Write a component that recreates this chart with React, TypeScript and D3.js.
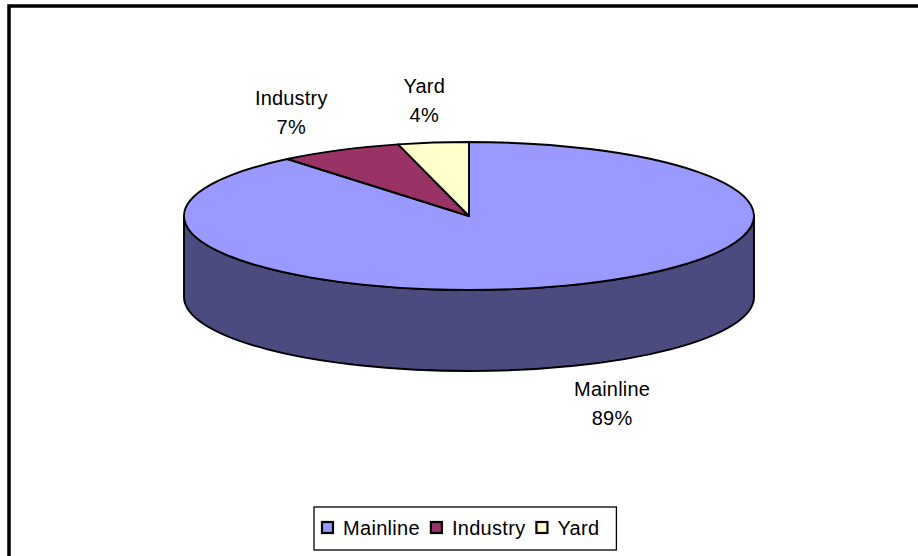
import React, { useEffect, useRef } from 'react';
import * as d3 from 'd3';

const categories = ['Mainline', 'Industry', 'Yard'];
const shares = [89, 7, 4];
const topColors = ['#9999ff', '#993366', '#ffffcc'];
const sideColors = ['#4b4b80', '#4d1a33', '#808066'];

const W = 918;
const H = 556;

function App() {
  const svgRef = useRef<SVGSVGElement | null>(null);

  useEffect(() => {
    if (!svgRef.current) return;
    const svg = d3.select(svgRef.current);
    svg.selectAll('*').remove();

    const font = '"Liberation Sans", Arial, sans-serif';

    // outer frame, runs off the right and bottom edge
    svg.append('rect')
      .attr('x', 9).attr('y', 6)
      .attr('width', W + 40).attr('height', H + 40)
      .attr('fill', '#fff')
      .attr('stroke', '#000')
      .attr('stroke-width', 3.5);

    const cx = 469;
    const cy = 216;
    const rx = 285;
    const ry = 74;
    const depth = 81;

    const data = categories.map((c, i) => ({ name: c, value: shares[i], i }));
    const arcs = d3.pie<any>().sort(null).value(d => d.value)(data);

    const px = (a: number) => cx + rx * Math.sin(a);
    const py = (a: number) => cy - ry * Math.cos(a);

    // side walls: only the part facing the viewer (angles pi/2 .. 3pi/2)
    const g = svg.append('g');
    arcs.forEach(a => {
      const a0 = Math.max(a.startAngle, Math.PI / 2);
      const a1 = Math.min(a.endAngle, 3 * Math.PI / 2);
      if (a1 <= a0) return;
      const large = a1 - a0 > Math.PI ? 1 : 0;
      const d = `M${px(a0)},${py(a0)}`
        + `A${rx},${ry} 0 ${large} 1 ${px(a1)},${py(a1)}`
        + `L${px(a1)},${py(a1) + depth}`
        + `A${rx},${ry} 0 ${large} 0 ${px(a0)},${py(a0) + depth}Z`;
      g.append('path')
        .attr('d', d)
        .attr('fill', sideColors[a.data.i])
        .attr('stroke', '#000')
        .attr('stroke-width', 1.9)
        .attr('stroke-linejoin', 'round');
    });

    // top face: circular arcs squashed into an ellipse
    const arcGen = d3.arc<any>().innerRadius(0).outerRadius(rx);
    svg.append('g')
      .attr('transform', `translate(${cx},${cy}) scale(1,${ry / rx})`)
      .selectAll('path')
      .data(arcs)
      .enter()
      .append('path')
      .attr('d', arcGen)
      .attr('fill', d => topColors[d.data.i])
      .attr('stroke', '#000')
      .attr('stroke-width', 1.9)
      .attr('stroke-linejoin', 'round')
      .attr('vector-effect', 'non-scaling-stroke');

    // data labels
    const lrx = rx * 1.42;
    const lry = ry * 1.55;
    arcs.forEach(a => {
      const mid = (a.startAngle + a.endAngle) / 2;
      const x = cx + 6 + lrx * Math.sin(mid);
      let y = cy - lry * Math.cos(mid) - 2;
      if (Math.cos(mid) < 0) y += depth;
      const t = svg.append('text')
        .attr('text-anchor', 'middle')
        .attr('font-family', font)
        .attr('font-size', 20)
        .attr('letter-spacing', 0.2)
        .attr('fill', '#000');
      t.append('tspan').attr('x', x).attr('y', y - 7).text(a.data.name);
      t.append('tspan').attr('x', x).attr('y', y + 22).text(`${a.data.value}%`);
    });

    // legend
    const legend = svg.append('g');
    const box = legend.append('rect')
      .attr('fill', '#fff')
      .attr('stroke', '#000')
      .attr('stroke-width', 1.3);
    let lx = 322;
    const ly = 528;
    categories.forEach((c, i) => {
      legend.append('rect')
        .attr('x', lx).attr('y', ly - 6)
        .attr('width', 11).attr('height', 11)
        .attr('fill', topColors[i])
        .attr('stroke', '#000')
        .attr('stroke-width', 2.2);
      const txt = legend.append('text')
        .attr('x', lx + 21).attr('y', ly + 7)
        .attr('font-family', font)
        .attr('font-size', 20)
        .attr('letter-spacing', 0.3)
        .attr('fill', '#000')
        .text(c);
      const w = (txt.node() as SVGTextElement).getComputedTextLength();
      lx = lx + 21 + w + 11;
    });
    box.attr('x', 314).attr('y', 507).attr('width', lx - 314 + 6).attr('height', 43);
  }, []);

  return (
    <div style={{ position: 'absolute', left: 0, top: 0, width: W, height: H, overflow: 'hidden' }}>
      <svg ref={svgRef} width={W} height={H} style={{ display: 'block', background: '#fff' }} />
    </div>
  );
}

export default App;
